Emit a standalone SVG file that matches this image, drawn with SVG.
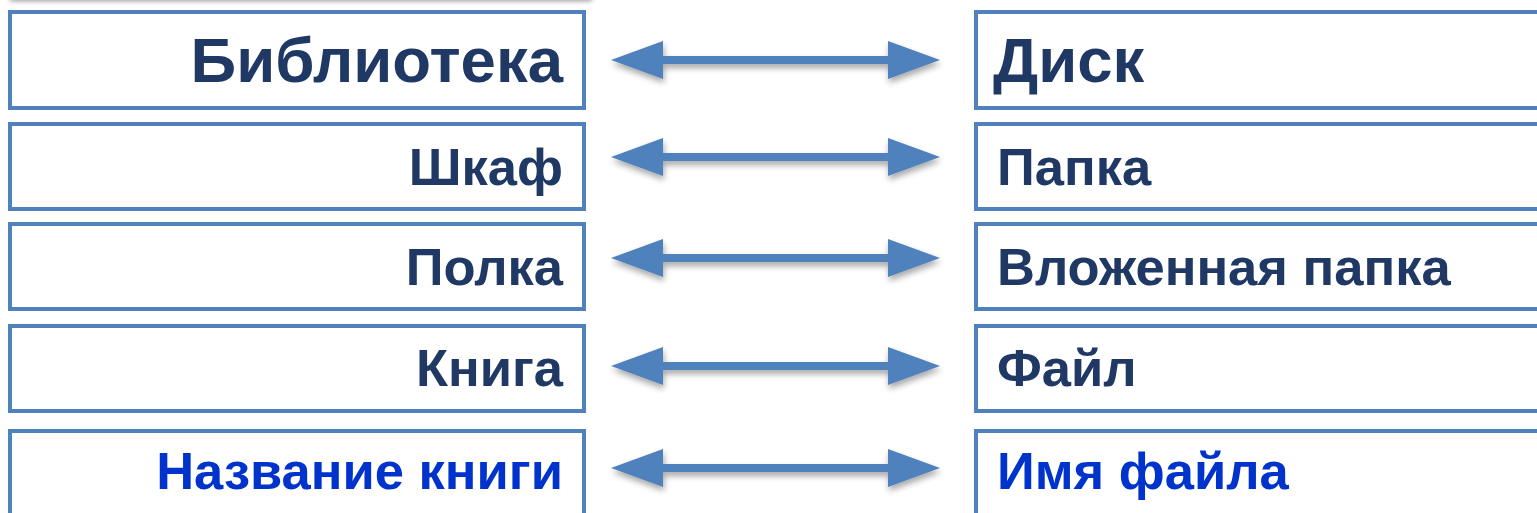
<svg xmlns="http://www.w3.org/2000/svg" width="1537" height="513" viewBox="0 0 1537 513">
<style>
.box{fill:#fff;stroke:#4F81BD;stroke-width:4}
.t{font-family:"Liberation Sans",Arial,sans-serif;font-weight:bold;fill:#1F3864}
.l{text-anchor:end}
.s{font-size:52.5px}
.b{font-size:63.5px}
.blue{fill:#0033CC}
.arr{fill:#4F81BD;filter:url(#sh)}
</style>
<defs>
<filter id="sh" x="-10%" y="-50%" width="120%" height="200%">
<feDropShadow dx="1" dy="4" stdDeviation="3" flood-color="#000" flood-opacity="0.35"/>
</filter>
<filter id="topsh" x="-10%" y="-100%" width="120%" height="300%">
<feGaussianBlur stdDeviation="2.5"/>
</filter>
<path id="arrow" d="M611,0 L663,-19 L663,-4 L888,-4 L888,-19 L940,0 L888,19 L888,4 L663,4 L663,19 Z"/>
</defs>
<rect x="10" y="-12" width="582" height="13" fill="#9a9a9a" filter="url(#topsh)"/>
<g id="left1"><rect class="box" x="10" y="12" width="574" height="96"/><text class="t l b" x="563" y="82">Библиотека</text></g>
<g id="left2"><rect class="box" x="10" y="124" width="574" height="85"/><text class="t l s" x="563" y="185">Шкаф</text></g>
<g id="left3"><rect class="box" x="10" y="224" width="574" height="85"/><text class="t l s" x="563" y="285">Полка</text></g>
<g id="left4"><rect class="box" x="10" y="326" width="574" height="85"/><text class="t l s" x="563" y="386">Книга</text></g>
<g id="left5"><rect class="box" x="10" y="431" width="574" height="85"/><text class="t l s blue" x="563" y="489">Название книги</text></g>
<g id="right1"><rect class="box" x="976" y="12" width="580" height="96"/><text class="t b" x="993" y="82">Диск</text></g>
<g id="right2"><rect class="box" x="976" y="124" width="580" height="85"/><text class="t s" x="997" y="185">Папка</text></g>
<g id="right3"><rect class="box" x="976" y="224" width="580" height="85"/><text class="t s" x="997" y="285">Вложенная папка</text></g>
<g id="right4"><rect class="box" x="976" y="326" width="580" height="85"/><text class="t s" x="997" y="386">Файл</text></g>
<g id="right5"><rect class="box" x="976" y="431" width="580" height="85"/><text class="t s blue" x="997" y="489">Имя файла</text></g>
<g id="connectors">
<use href="#arrow" class="arr" transform="translate(0,60)"/>
<use href="#arrow" class="arr" transform="translate(0,157)"/>
<use href="#arrow" class="arr" transform="translate(0,258)"/>
<use href="#arrow" class="arr" transform="translate(0,366)"/>
<use href="#arrow" class="arr" transform="translate(0,468)"/>
</g>
</svg>
